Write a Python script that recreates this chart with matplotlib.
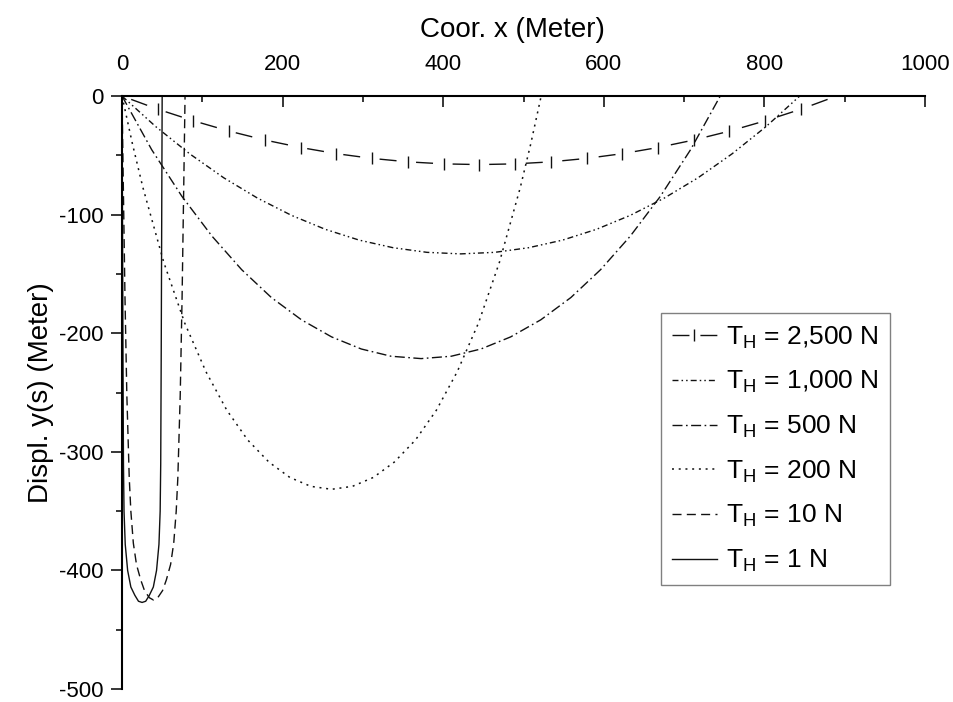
import matplotlib
matplotlib.use("Agg")
import matplotlib.pyplot as plt
from matplotlib.lines import Line2D
from matplotlib.ticker import MultipleLocator

plt.rcParams['font.family'] = ['Liberation Sans', 'DejaVu Sans']
plt.rcParams['mathtext.fontset'] = 'custom'
plt.rcParams['mathtext.rm'] = 'Liberation Sans'
plt.rcParams['mathtext.it'] = 'Liberation Sans'
plt.rcParams['axes.unicode_minus'] = False

# cable profiles, one per horizontal tension (x and displacement in meter)
x_2500 = [0, 44.5, 89, 133.5, 178, 222.5, 267, 311.5, 356, 400.5, 445,
          489.5, 534, 578.5, 623, 667.5, 712, 756.5, 801, 845.5, 890]
y_2500 = [0, -11.1, -20.9, -29.6, -37.1, -43.4, -48.6, -52.6, -55.5, -57.2, -57.8,
          -57.2, -55.5, -52.6, -48.6, -43.4, -37.1, -29.6, -20.9, -11.1, 0]

x_1000 = [0, 42.2, 84.4, 126.6, 168.8, 211, 253.2, 295.4, 337.6, 379.8, 422,
          464.2, 506.4, 548.6, 590.8, 633, 675.2, 717.4, 759.6, 801.8, 844]
y_1000 = [0, -25.9, -48.8, -68.9, -86.1, -100.6, -112.4, -121.5, -127.9, -131.8, -133.1,
          -131.8, -127.9, -121.5, -112.4, -100.6, -86.1, -68.9, -48.8, -25.9, 0]

x_500 = [0, 37, 74.5, 112, 149, 186, 223.5, 261, 298, 335, 372.5,
         410, 447, 484, 521.5, 559, 596, 633, 670.5, 708, 745]
y_500 = [0, -45.3, -84.5, -118.1, -146.4, -169.9, -188.7, -203.1, -213.3, -219.4, -221.4,
         -219.4, -213.3, -203.1, -188.7, -169.9, -146.4, -118.1, -84.5, -45.3, 0]

x_200 = [0, 13, 26, 52, 78, 104.5, 130.5, 156.5, 183, 209, 235, 261,
         287, 313, 339, 365.5, 391.5, 417.5, 444, 470, 496, 509, 522]
y_200 = [0, -40.4, -77.1, -140.2, -191.3, -232.4, -264.9, -290.0, -308.7, -321.6, -329.1, -331.6,
         -329.1, -321.6, -308.7, -290.0, -264.9, -232.4, -191.3, -140.2, -77.1, -40.4, 0]

x_10 = [0, 1.5, 3.7, 6, 9, 11, 14.1, 18, 23.3, 28, 34, 39.25,
        44.5, 50.5, 55.2, 60.5, 64.4, 67.5, 69.5, 72.5, 74.8, 77, 78.5]
y_10 = [0, -70, -170, -252, -322, -350, -377, -395, -408, -417, -423, -425,
        -423, -417, -408, -395, -377, -350, -322, -252, -170, -70, 0]

x_1 = [0, 0.6, 1.2, 1.8, 2.5, 4, 7, 11, 16, 20.5, 25,
       29.5, 34, 39, 43, 46, 47.5, 48.2, 48.8, 49.4, 50]
y_1 = [0, -110, -220, -310, -350, -378, -400, -414, -421, -426, -427,
       -426, -421, -414, -400, -378, -350, -310, -220, -110, 0]

labels = [r'$\mathregular{T_H}$ = 2,500 N', r'$\mathregular{T_H}$ = 1,000 N',
          r'$\mathregular{T_H}$ = 500 N', r'$\mathregular{T_H}$ = 200 N',
          r'$\mathregular{T_H}$ = 10 N', r'$\mathregular{T_H}$ = 1 N']

ink = '#111111'

fig, ax = plt.subplots(figsize=(9.54, 7.02), dpi=100)
fig.subplots_adjust(left=0.1279, right=0.9696, top=0.8632, bottom=0.0185)

ax.plot(x_2500, y_2500, color=ink, lw=1.0, linestyle=(19.3, (12.24, 14.11)),
        marker='|', markersize=8.6, markeredgewidth=1.0, markevery=slice(1, -1))
l1000, = ax.plot(x_1000, y_1000, color=ink, lw=1.0,
                 linestyle=(0, (4.3, 2.2, 1.1, 2.2, 1.1, 2.2)))
l500, = ax.plot(x_500, y_500, color=ink, lw=1.0, linestyle=(0, (7.2, 2.5, 1.2, 2.5)))
l200, = ax.plot(x_200, y_200, color=ink, lw=1.1, linestyle=(0, (1.3, 3.1)))
l10, = ax.plot(x_10, y_10, color=ink, lw=1.0, linestyle=(0, (6.5, 3.8)))
l1, = ax.plot(x_1, y_1, color=ink, lw=1.0)

# legend handle for the 2,500 N line: dash | dash
proxy = Line2D([], [], color=ink, lw=1.0, linestyle=(0, (12.2, 7.9)),
               marker='|', markersize=8.6, markeredgewidth=1.0)

ax.set_xlim(0, 1000)
ax.set_ylim(-500, 0)
ax.xaxis.tick_top()
ax.xaxis.set_label_position('top')
ax.spines['right'].set_visible(False)
ax.spines['bottom'].set_visible(False)
for s in ('top', 'left'):
    ax.spines[s].set_linewidth(1.5)

ax.xaxis.set_major_locator(MultipleLocator(200))
ax.xaxis.set_minor_locator(MultipleLocator(100))
ax.yaxis.set_major_locator(MultipleLocator(100))
ax.yaxis.set_minor_locator(MultipleLocator(50))

ax.tick_params(axis='x', which='both', direction='in', top=True, bottom=False,
               labeltop=True, labelbottom=False, pad=15.5, labelsize=16, width=1.1)
ax.tick_params(axis='x', which='major', length=8)
ax.tick_params(axis='x', which='minor', length=4.3)
ax.tick_params(axis='y', which='both', direction='out', left=True, right=False,
               pad=5.5, labelsize=16, width=1.1)
ax.tick_params(axis='y', which='major', length=8)
ax.tick_params(axis='y', which='minor', length=4.5)

ax.set_xlabel('Coor. x (Meter)', fontsize=20, labelpad=12)
ax.xaxis.label.set_x(0.486)
ax.set_ylabel('Displ. y(s) (Meter)', fontsize=20, labelpad=3)

leg = ax.legend([proxy, l1000, l500, l200, l10, l1], labels,
                loc='upper right', bbox_to_anchor=(0.9564, 0.634), borderaxespad=0,
                fontsize=19, handlelength=1.7, handletextpad=0.35, labelspacing=0.7,
                borderpad=0.43, frameon=True, fancybox=False, framealpha=1,
                edgecolor='#808080')
leg.get_frame().set_linewidth(1.0)

fig.savefig('out.png', dpi=100)
